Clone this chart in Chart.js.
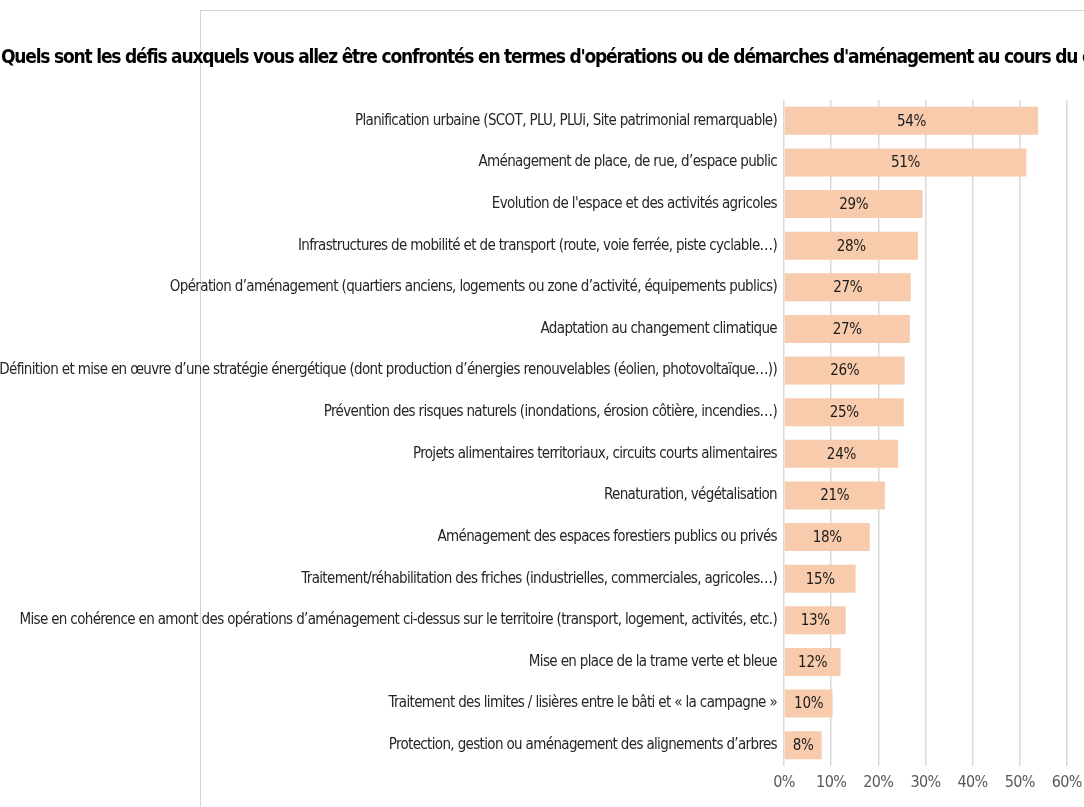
<!DOCTYPE html>
<html>
<head>
<meta charset="utf-8">
<script src="https://cdn.jsdelivr.net/npm/chart.js@4/dist/chart.umd.min.js"></script>
<style>
  html, body { margin: 0; padding: 0; background: #fff; overflow: hidden; width: 1084px; height: 807px; }
  #frame { position: absolute; left: 200px; top: 10px; width: 1000px; height: 900px;
           border-left: 1px solid #d4d4d4; border-top: 1px solid #d4d4d4; }
  #wrap { position: absolute; left: 0; top: 0; }
</style>
</head>
<body>
<div id="frame"></div>
<div id="wrap"><canvas id="chart" width="1140" height="807"></canvas></div>
<script>
const FONT = '"Liberation Sans Narrow", "Arial Narrow", "DejaVu Sans Condensed", sans-serif';

const titleText = "Quels sont les défis auxquels vous allez être confrontés en termes d'opérations ou de démarches d'aménagement au cours du ou des prochains mandats ?";

const categories = [
    'Planification urbaine (SCOT, PLU, PLUi, Site patrimonial remarquable)',
    'Aménagement de place, de rue, d’espace public',
    "Evolution de l'espace et des activités agricoles",
    'Infrastructures de mobilité et de transport (route, voie ferrée, piste cyclable…)',
    'Opération d’aménagement (quartiers anciens, logements ou zone d’activité, équipements publics)',
    'Adaptation au changement climatique',
    'Définition et mise en œuvre d’une stratégie énergétique (dont production d’énergies renouvelables (éolien, photovoltaïque…))',
    'Prévention des risques naturels (inondations, érosion côtière, incendies…)',
    'Projets alimentaires territoriaux, circuits courts alimentaires',
    'Renaturation, végétalisation',
    'Aménagement des espaces forestiers publics ou privés',
    'Traitement/réhabilitation des friches (industrielles, commerciales, agricoles…)',
    'Mise en cohérence en amont des opérations d’aménagement ci-dessus sur le territoire (transport, logement, activités, etc.)',
    'Mise en place de la trame verte et bleue',
    'Traitement des limites / lisières entre le bâti et « la campagne »',
    'Protection, gestion ou aménagement des alignements d’arbres'
];

const values = [0.539, 0.514, 0.294, 0.284, 0.269, 0.267, 0.256, 0.254, 0.242, 0.214, 0.182, 0.152, 0.131, 0.120, 0.103, 0.080];

const xTicks = [0, 0.1, 0.2, 0.3, 0.4, 0.5, 0.6, 0.7];

const pct = v => Math.round(v * 100) + '%';

// Calibri-like narrowing
const tighten = {
    id: 'tighten',
    beforeDraw(chart) { chart.ctx.letterSpacing = '-0.65px'; }
};

const titlePlugin = {
    id: 'titleText',
    afterDraw(chart) {
        const c = chart.ctx;
        c.save();
        c.letterSpacing = '-1.2px';
        c.font = 'bold 19px ' + FONT;
        c.fillStyle = '#000';
        c.textAlign = 'left';
        c.textBaseline = 'middle';
        c.fillText(titleText, 1, 58);
        c.restore();
    }
};

const valueLabels = {
    id: 'valueLabels',
    afterDatasetsDraw(chart) {
        const c = chart.ctx;
        c.save();
        c.letterSpacing = '-0.3px';
        c.font = '15px ' + FONT;
        c.fillStyle = '#1a1a1a';
        c.textAlign = 'center';
        c.textBaseline = 'middle';
        chart.getDatasetMeta(0).data.forEach((bar, i) => {
            c.fillText(pct(values[i]), (bar.base + bar.x) / 2, bar.y + 1);
        });
        c.restore();
    }
};

new Chart(document.getElementById('chart').getContext('2d'), {
    type: 'bar',
    data: {
        labels: categories,
        datasets: [{
            data: values,
            backgroundColor: '#F8CBAD',
            barPercentage: 0.67,
            categoryPercentage: 1
        }]
    },
    options: {
        indexAxis: 'y',
        responsive: false,
        animation: false,
        layout: { padding: { top: 100, right: 26, left: 0, bottom: 0 } },
        plugins: { legend: { display: false }, tooltip: { enabled: false } },
        scales: {
            x: {
                min: 0,
                max: 0.7,
                afterBuildTicks: s => { s.ticks = xTicks.map(v => ({ value: v })); },
                afterFit: s => { s.height = 41; },
                ticks: {
                    callback: v => pct(v),
                    color: '#595959',
                    font: { family: FONT, size: 16 },
                    padding: 7
                },
                grid: { color: '#d9d9d9', lineWidth: 1.5, drawTicks: false },
                border: { display: false }
            },
            y: {
                afterFit: s => { s.width = 784; },
                ticks: {
                    color: '#262626',
                    font: { family: FONT, size: 15 },
                    padding: 7,
                    autoSkip: false
                },
                grid: { display: false, drawTicks: false },
                border: { display: false }
            }
        }
    },
    plugins: [tighten, titlePlugin, valueLabels]
});
</script>
</body>
</html>
